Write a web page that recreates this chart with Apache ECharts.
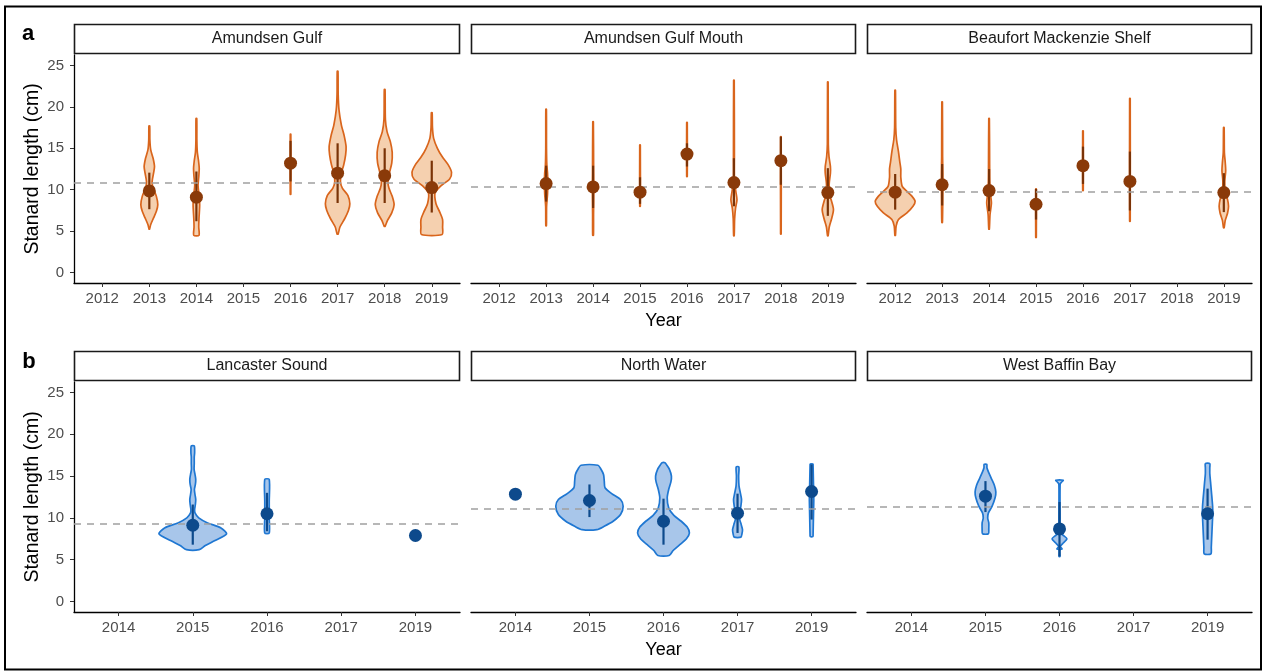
<!DOCTYPE html>
<html>
<head>
<meta charset="utf-8">
<script src="https://cdn.jsdelivr.net/npm/echarts@6/dist/echarts.min.js"></script>
<style>
  html, body { margin: 0; padding: 0; background: #ffffff; }
  #chart { width: 1266px; height: 672px; }
</style>
</head>
<body>
<div id="chart"></div>
<script>
// ---- categories and ticks ----
const yearsA = ['2012', '2013', '2014', '2015', '2016', '2017', '2018', '2019'];
const yearsB = ['2014', '2015', '2016', '2017', '2019'];
const lengthTicks = [0, 5, 10, 15, 20, 25];

const regionNames = ['Amundsen Gulf', 'Amundsen Gulf Mouth', 'Beaufort Mackenzie Shelf',
                     'Lancaster Sound', 'North Water', 'West Baffin Bay'];
// overall mean standard length per region (dashed reference)
const regionMeans = [10.9, 10.3, 9.8, 9.35, 11.1, 11.3];

// ---- Amundsen Gulf ----
const agYears = ['2013', '2014', '2016', '2017', '2018', '2019'];
const agMean = [9.86, 9.1, 13.2, 12.0, 11.7, 10.26];
const agLow = [7.65, 6.2, 11.0, 8.4, 8.4, 7.25];
const agHigh = [12.06, 12.2, 15.9, 15.6, 15.0, 13.5];
// density profiles: [length, half width in year units]
const agDensity = [
  [[5.25, 0.005], [5.8, 0.03], [6.6, 0.09], [7.4, 0.15], [8.2, 0.18], [9.2, 0.15], [10.2, 0.08], [11.0, 0.06], [12.0, 0.09], [12.8, 0.11], [13.8, 0.08], [14.8, 0.03], [16.0, 0.012], [17.7, 0.008]],
  [[4.5, 0.055], [5.5, 0.05], [6.5, 0.055], [7.5, 0.065], [8.2, 0.07], [9.2, 0.06], [10.5, 0.035], [11.5, 0.05], [12.6, 0.06], [13.5, 0.045], [14.5, 0.02], [16.0, 0.01], [18.6, 0.008]],
  [[9.45, 0.006], [16.7, 0.006]],
  [[4.65, 0.01], [5.5, 0.05], [6.5, 0.15], [7.5, 0.23], [8.3, 0.26], [9.3, 0.22], [10.2, 0.1], [11.0, 0.06], [12.0, 0.08], [13.0, 0.13], [14.2, 0.17], [15.2, 0.18], [16.5, 0.14], [17.8, 0.08], [19.6, 0.03], [21.5, 0.012], [24.3, 0.008]],
  [[5.6, 0.01], [6.3, 0.06], [7.2, 0.15], [8.2, 0.2], [9.2, 0.16], [10.2, 0.09], [11.0, 0.07], [12.0, 0.1], [13.2, 0.15], [14.5, 0.16], [15.8, 0.12], [17.0, 0.05], [18.5, 0.015], [22.1, 0.008]],
  [[4.6, 0.22], [5.5, 0.23], [6.4, 0.23], [7.3, 0.17], [8.3, 0.09], [9.6, 0.07], [10.5, 0.2], [11.3, 0.38], [12.1, 0.42], [13.0, 0.35], [14.0, 0.22], [15.0, 0.12], [16.2, 0.04], [17.5, 0.015], [19.3, 0.008]]
];

// ---- Amundsen Gulf Mouth ----
const agmYears = ['2013', '2014', '2015', '2016', '2017', '2018', '2019'];
const agmMean = [10.74, 10.34, 9.7, 14.3, 10.86, 13.5, 9.66];
const agmLow = [8.57, 7.8, 8.3, 12.8, 8.0, 10.6, 6.85];
const agmHigh = [12.9, 12.9, 11.5, 15.6, 13.8, 16.4, 12.6];
const agmDensity = [
  [[5.65, 0.006], [8.0, 0.01], [9.5, 0.03], [10.8, 0.035], [12.0, 0.03], [13.0, 0.015], [15.0, 0.008], [19.7, 0.006]],
  [[4.5, 0.008], [7.0, 0.01], [10.0, 0.015], [12.0, 0.012], [18.2, 0.006]],
  [[8.0, 0.006], [15.4, 0.006]],
  [[11.6, 0.006], [18.1, 0.006]],
  [[4.45, 0.006], [6.5, 0.015], [7.8, 0.035], [8.8, 0.065], [9.8, 0.04], [11.0, 0.012], [14.0, 0.01], [23.2, 0.006]],
  [[4.65, 0.006], [16.4, 0.006]],
  [[4.45, 0.006], [5.5, 0.03], [6.5, 0.08], [7.6, 0.12], [8.6, 0.08], [9.6, 0.03], [10.8, 0.03], [12.0, 0.055], [12.8, 0.055], [14.0, 0.025], [15.5, 0.01], [23.0, 0.006]]
];

// ---- Beaufort Mackenzie Shelf ----
const bmsYears = ['2012', '2013', '2014', '2015', '2016', '2017', '2019'];
const bmsMean = [9.7, 10.6, 9.9, 8.25, 12.9, 11.0, 9.66];
const bmsLow = [7.6, 8.1, 7.4, 6.4, 10.7, 7.5, 7.3];
const bmsHigh = [11.9, 13.1, 12.5, 10.1, 15.2, 14.6, 12.0];
const bmsDensity = [
  [[4.5, 0.006], [5.6, 0.02], [6.4, 0.07], [7.2, 0.25], [8.0, 0.38], [8.6, 0.425], [9.2, 0.36], [9.8, 0.25], [10.4, 0.15], [11.5, 0.12], [12.5, 0.12], [13.3, 0.1], [14.6, 0.07], [16.0, 0.03], [17.5, 0.012], [22.0, 0.006]],
  [[6.05, 0.006], [8.0, 0.012], [10.0, 0.015], [12.0, 0.015], [14.0, 0.01], [20.6, 0.006]],
  [[5.25, 0.006], [7.0, 0.02], [8.4, 0.05], [9.5, 0.03], [11.0, 0.015], [13.0, 0.012], [18.6, 0.006]],
  [[4.25, 0.006], [10.1, 0.006]],
  [[9.9, 0.006], [17.1, 0.006]],
  [[6.2, 0.006], [21.0, 0.006]],
  [[5.4, 0.006], [6.3, 0.03], [7.2, 0.08], [8.0, 0.1], [8.8, 0.08], [9.8, 0.03], [11.0, 0.02], [12.3, 0.04], [13.3, 0.03], [14.5, 0.012], [17.5, 0.006]]
];

// ---- Lancaster Sound ----
const lsYears = ['2015', '2016', '2019'];
const lsMean = [9.12, 10.5, 7.9];
const lsLow = [6.8, 8.4, null];
const lsHigh = [11.6, 13.0, null];
const lsDensity = [
  [[6.2, 0.086], [6.7, 0.17], [7.3, 0.3], [8.1, 0.455], [8.8, 0.38], [9.4, 0.2], [10.0, 0.08], [10.6, 0.03], [11.0, 0.025], [11.6, 0.035], [12.2, 0.04], [12.8, 0.03], [13.4, 0.022], [14.0, 0.035], [14.6, 0.04], [15.2, 0.03], [15.8, 0.018], [16.5, 0.02], [17.3, 0.02], [17.8, 0.025], [18.6, 0.02]],
  [[8.2, 0.03], [10.0, 0.03], [12.0, 0.03], [14.6, 0.03]],
  []
];

// ---- North Water ----
const nwYears = ['2014', '2015', '2016', '2017', '2019'];
const nwMean = [12.84, 12.08, 9.6, 10.56, 13.16];
const nwLow = [null, 10.1, 6.8, 8.2, 9.8];
const nwHigh = [null, 14.0, 12.3, 12.9, 16.4];
const nwDensity = [
  [],
  [[8.6, 0.1], [9.0, 0.2], [9.6, 0.32], [10.4, 0.42], [11.4, 0.455], [12.2, 0.42], [12.9, 0.3], [13.6, 0.21], [14.4, 0.2], [15.2, 0.19], [15.9, 0.15], [16.3, 0.115]],
  [[5.5, 0.076], [6.1, 0.13], [6.8, 0.22], [7.5, 0.31], [8.2, 0.35], [8.9, 0.32], [9.6, 0.24], [10.3, 0.14], [11.2, 0.07], [12.4, 0.05], [13.4, 0.07], [14.3, 0.1], [15.0, 0.107], [15.8, 0.08], [16.3, 0.045], [16.6, 0.02]],
  [[7.7, 0.045], [8.1, 0.06], [8.6, 0.067], [9.2, 0.05], [9.8, 0.03], [10.4, 0.025], [11.4, 0.045], [12.2, 0.054], [12.9, 0.04], [13.8, 0.02], [15.0, 0.015], [16.1, 0.018]],
  [[7.8, 0.02], [16.4, 0.02]]
];

// ---- West Baffin Bay ----
const wbbYears = ['2015', '2016', '2019'];
const wbbMean = [12.6, 8.68, 10.5];
const wbbLow = [10.7, 5.4, 7.4];
const wbbHigh = [14.4, 11.9, 13.5];
const wbbDensity = [
  [[8.1, 0.04], [8.6, 0.045], [9.4, 0.045], [10.0, 0.03], [10.6, 0.04], [11.4, 0.09], [12.4, 0.13], [13.1, 0.14], [13.9, 0.12], [14.7, 0.08], [15.5, 0.04], [16.0, 0.02], [16.4, 0.018]],
  [[5.4, 0.006], [6.2, 0.006], [6.3, 0.035], [6.6, 0.01], [6.9, 0.04], [7.5, 0.1], [8.0, 0.04], [8.4, 0.01], [10.0, 0.008], [14.0, 0.008], [14.2, 0.02], [14.5, 0.05]],
  [[5.7, 0.045], [6.5, 0.05], [7.5, 0.055], [8.5, 0.06], [9.5, 0.065], [10.5, 0.07], [11.4, 0.068], [12.3, 0.06], [13.3, 0.05], [14.3, 0.04], [15.3, 0.03], [16.0, 0.03], [16.5, 0.03]]
];

// ---- assembly ----
const regions = [
  { years: yearsA, sample: agYears, mean: agMean, low: agLow, high: agHigh, density: agDensity },
  { years: yearsA, sample: agmYears, mean: agmMean, low: agmLow, high: agmHigh, density: agmDensity },
  { years: yearsA, sample: bmsYears, mean: bmsMean, low: bmsLow, high: bmsHigh, density: bmsDensity },
  { years: yearsB, sample: lsYears, mean: lsMean, low: lsLow, high: lsHigh, density: lsDensity },
  { years: yearsB, sample: nwYears, mean: nwMean, low: nwLow, high: nwHigh, density: nwDensity },
  { years: yearsB, sample: wbbYears, mean: wbbMean, low: wbbLow, high: wbbHigh, density: wbbDensity }
];

const FONT = '"Liberation Sans", Arial, Helvetica, sans-serif';
const palettes = [
  { stroke: '#d9651c', fill: 'rgba(236,170,110,0.55)', dot: '#8a3a09', bar: '#7a3307' },
  { stroke: '#1f77d2', fill: 'rgba(110,160,220,0.6)', dot: '#0d4a8c', bar: '#0d4a8c' }
];

// panel boxes: [left, top, width, height]
const boxes = [
  [74, 55, 386, 228], [471, 55, 385, 228], [867, 55, 385, 228],
  [74, 382, 386, 230], [471, 382, 385, 230], [867, 382, 385, 230]
];

const grids = [], xAxes = [], yAxes = [], series = [], graphics = [];

regions.forEach((r, i) => {
  const [left, top, width, height] = boxes[i];
  const pal = palettes[i < 3 ? 0 : 1];
  const n = r.years.length;
  const idx = r.years.map((_, k) => k);
  const firstCol = i % 3 === 0;
  const midCol = i % 3 === 1;

  grids.push({ left, top, width, height, containLabel: false });

  xAxes.push({
    type: 'value', gridIndex: i, min: -0.6, max: n - 1 + 0.6,
    name: midCol ? 'Year' : '', nameLocation: 'middle', nameGap: 29,
    nameTextStyle: { fontFamily: FONT, fontSize: 18, color: '#000' },
    axisLine: { show: true, onZero: false, lineStyle: { color: '#000', width: 1.3 } },
    axisTick: { show: true, length: 4, customValues: idx, lineStyle: { color: '#333', width: 1 } },
    axisLabel: {
      show: true, customValues: idx, margin: 8,
      formatter: v => r.years[Math.round(v)],
      fontFamily: FONT, fontSize: 15, color: '#4d4d4d'
    },
    splitLine: { show: false }
  });

  yAxes.push({
    type: 'value', gridIndex: i, min: -1.25, max: 26.25,
    name: firstCol ? 'Stanard length (cm)' : '', nameLocation: 'middle', nameGap: 31, nameRotate: 90,
    nameTextStyle: { fontFamily: FONT, fontSize: 19.5, color: '#000' },
    axisLine: { show: firstCol, onZero: false, lineStyle: { color: '#000', width: 1.3 } },
    axisTick: { show: firstCol, length: 4, customValues: lengthTicks, lineStyle: { color: '#333', width: 1 } },
    axisLabel: {
      show: firstCol, customValues: lengthTicks, margin: 10,
      fontFamily: FONT, fontSize: 15, color: '#4d4d4d'
    },
    splitLine: { show: false }
  });

  const pts = r.sample.map((y, k) => [r.years.indexOf(y), r.mean[k]]);

  // violins
  series.push({
    type: 'custom', xAxisIndex: i, yAxisIndex: i, z: 2, silent: true,
    data: pts,
    renderItem: (params, api) => {
      const prof = r.density[params.dataIndex];
      if (!prof || !prof.length) return null;
      const x = api.value(0);
      const right = prof.map(([v, w]) => api.coord([x + w, v]));
      const leftSide = prof.slice().reverse().map(([v, w]) => api.coord([x - w, v]));
      return {
        type: 'polygon',
        shape: { points: right.concat(leftSide), smooth: 0.25 },
        style: { fill: pal.fill, stroke: pal.stroke, lineWidth: 1.7, lineJoin: 'round' }
      };
    }
  });

  // regional mean reference
  series.push({
    type: 'line', xAxisIndex: i, yAxisIndex: i, z: 3, data: [], silent: true,
    markLine: {
      silent: true, symbol: ['none', 'none'], label: { show: false },
      lineStyle: { color: '#a0a0a0', width: 1.7, type: [7, 6] },
      emphasis: { disabled: true },
      data: [{ yAxis: regionMeans[i] }]
    }
  });

  // spread bars
  series.push({
    type: 'custom', xAxisIndex: i, yAxisIndex: i, z: 4, silent: true,
    data: pts,
    renderItem: (params, api) => {
      const k = params.dataIndex;
      if (r.low[k] == null || r.high[k] == null) return null;
      const x = api.value(0);
      const p1 = api.coord([x, r.low[k]]);
      const p2 = api.coord([x, r.high[k]]);
      return {
        type: 'line',
        shape: { x1: p1[0], y1: p1[1], x2: p2[0], y2: p2[1] },
        style: { stroke: pal.bar, lineWidth: 2.2 }
      };
    }
  });

  // means
  series.push({
    type: 'scatter', xAxisIndex: i, yAxisIndex: i, z: 5, silent: true,
    symbol: 'circle', symbolSize: 13,
    itemStyle: { color: pal.dot, opacity: 1 },
    data: pts
  });

  // facet strip
  graphics.push({
    type: 'rect', silent: true,
    shape: { x: left + 0.5, y: top - 30.5, width: width - 1, height: 29 },
    style: { fill: '#ffffff', stroke: '#1a1a1a', lineWidth: 1.6 }
  });
  graphics.push({
    type: 'text', silent: true,
    x: left + width / 2, y: top - 16,
    style: { text: regionNames[i], fontFamily: FONT, fontSize: 16, fill: '#1a1a1a', align: 'center', verticalAlign: 'middle' }
  });
});

// outer frame and panel letters
graphics.push({
  type: 'rect', silent: true,
  shape: { x: 5, y: 6.5, width: 1256, height: 663 },
  style: { fill: 'none', stroke: '#000', lineWidth: 2 }
});
graphics.push({
  type: 'text', silent: true, x: 28, y: 34,
  style: { text: 'a', fontFamily: FONT, fontSize: 22, fontWeight: 'bold', fill: '#000', align: 'center', verticalAlign: 'middle' }
});
graphics.push({
  type: 'text', silent: true, x: 29, y: 362,
  style: { text: 'b', fontFamily: FONT, fontSize: 22, fontWeight: 'bold', fill: '#000', align: 'center', verticalAlign: 'middle' }
});

const chart = echarts.init(document.getElementById('chart'), null, { renderer: 'canvas' });
chart.setOption({
  backgroundColor: '#ffffff',
  animation: false,
  grid: grids,
  xAxis: xAxes,
  yAxis: yAxes,
  series: series,
  graphic: graphics
});
</script>
</body>
</html>
